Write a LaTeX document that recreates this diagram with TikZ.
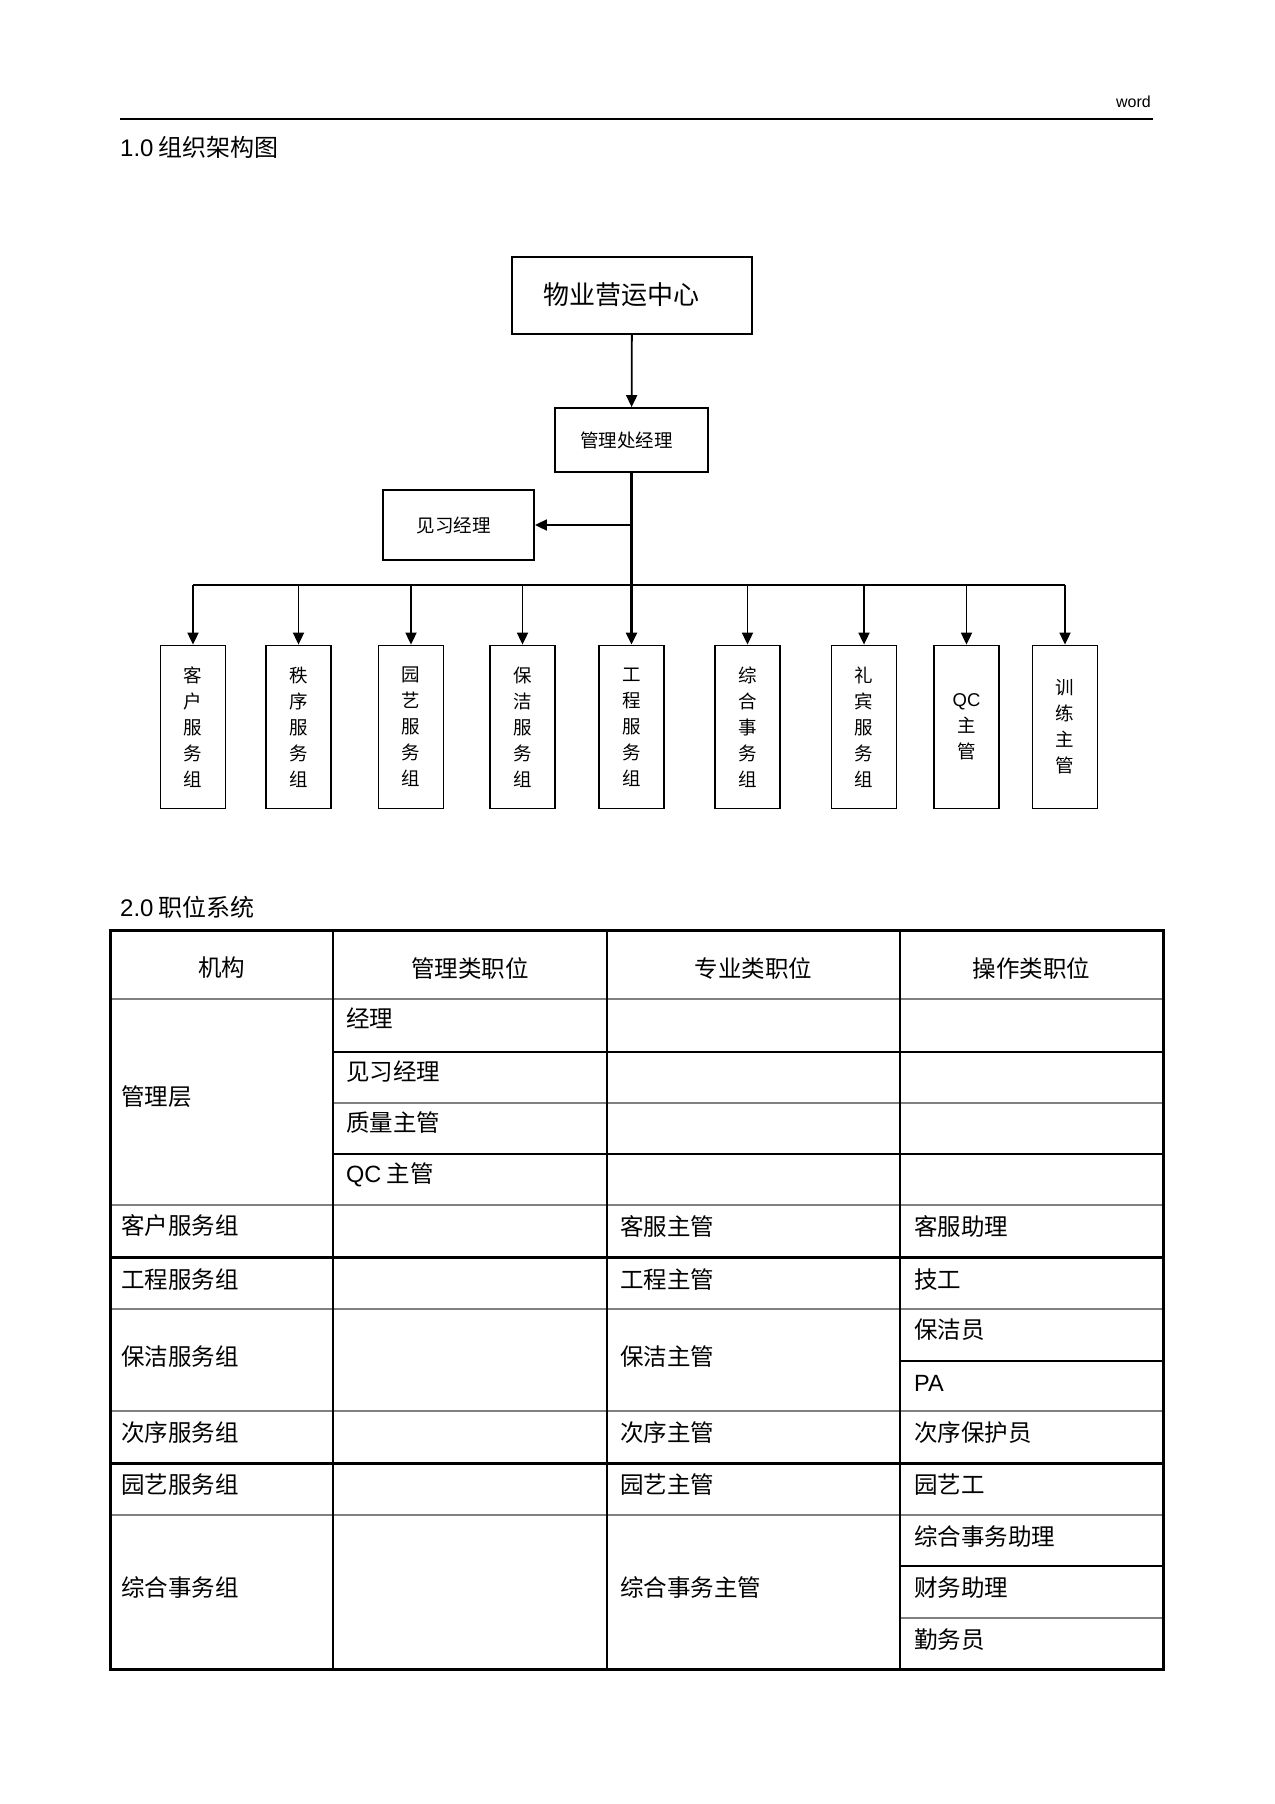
\documentclass[tikz,border=0pt]{standalone}
\usepackage{fontspec}
\setmainfont{Noto Sans CJK SC}
\newfontfamily\latinfont{Liberation Sans}
\usetikzlibrary{arrows.meta,positioning}
\tikzset{
    orgbox/.style={draw, line width=1.8bp, rectangle, inner sep=0pt, align=center},
    groupbox/.style={orgbox, minimum width=65bp, minimum height=163bp,
        font=\fontsize{18.5bp}{26bp}\selectfont},
    arrowlink/.style={line width=1.8bp, -{Triangle[length=12bp,width=11bp]}},
    celltext/.style={anchor=west, inner sep=0pt, font=\fontsize{23.5bp}{28bp}\selectfont},
    headtext/.style={inner sep=0pt, font=\fontsize{23.5bp}{28bp}\selectfont},
    thinrule/.style={line width=2bp},
    greyrule/.style={line width=2.7bp, black!50},
    heavyrule/.style={line width=3bp},
}
\begin{document}
\begin{tikzpicture}[x=1bp, y=-1bp]
\useasboundingbox (0,0) rectangle (1274,1804);
% page head
\node[anchor=east, inner sep=0pt, font=\latinfont\fontsize{16bp}{18bp}\selectfont] (wordmark) at (1151,102) {word};
\coordinate (headL) at (120,118.5);
\coordinate (headR) at (1153,118.5);
\draw[line width=2bp] (headL) -- (headR);
\node[anchor=west, inner sep=0pt, font=\fontsize{24bp}{28bp}\selectfont] (title1) at (120,147) {{\latinfont 1.0} 组织架构图};

% org chart
\node[orgbox, minimum width=240bp, minimum height=77bp, font=\fontsize{26bp}{30bp}\selectfont] (centre) at (632,295.5) {\raisebox{4bp}{物业营运中心}\hspace*{22bp}};
\node[orgbox, minimum width=153bp, minimum height=64bp, font=\fontsize{18.5bp}{22bp}\selectfont] (mgr) at (631.5,440) {管理处经理\hspace*{10bp}};
\node[orgbox, minimum width=151bp, minimum height=70bp, font=\fontsize{18.5bp}{22bp}\selectfont] (trainee) at (458.5,525) {见习经理\hspace*{10bp}};
\foreach \x/\id/\txt in {193/kehu/{客\\户\\服\\务\\组}, 298.5/zhixu/{秩\\序\\服\\务\\组},
    411/yuanyi/{园\\艺\\服\\务\\组}, 522.5/baojie/{保\\洁\\服\\务\\组},
    631.5/gongcheng/{工\\程\\服\\务\\组}, 747.5/zonghe/{综\\合\\事\\务\\组},
    864/libin/{礼\\宾\\服\\务\\组}, 966.5/qc/{{\latinfont QC}\\主\\管},
    1065/xunlian/{训\\练\\主\\管}} {
    \node[groupbox] (\id) at (\x,727) {\txt};
}
\coordinate (busL) at (193,585);
\coordinate (busR) at (1065,585);
\draw[line width=1.2bp] (busL) -- (busR);
\draw[arrowlink] (centre) -- (mgr);
\draw[arrowlink, line width=2.2bp] (mgr) -- (gongcheng);
\draw[arrowlink] (mgr.south |- trainee.east) -- (trainee);
\foreach \id in {kehu, zhixu, yuanyi, baojie, zonghe, libin, qc, xunlian} {
    \draw[arrowlink] (\id.north |- busL) -- (\id);
}

% position table
\node[anchor=west, inner sep=0pt, font=\fontsize{24bp}{28bp}\selectfont] (title2) at (120,907) {{\latinfont 2.0} 职位系统};
\def\colA{110.5}
\def\colB{333}
\def\colC{607}
\def\colD{900}
\def\colE{1163}
\def\tabTop{930.5}
\def\tabBot{1669.5}
\foreach \y in {999, 1205, 1309, 1411, 1515}
    \draw[greyrule] (\colA,\y) -- (\colE,\y);
\foreach \y in {1257, 1463}
    \draw[heavyrule] (\colA,\y) -- (\colE,\y);
\draw[greyrule] (\colB,1103) -- (\colE,1103);
\foreach \y in {1052, 1154}
    \draw[thinrule] (\colB,\y) -- (\colE,\y);
\foreach \y in {1361, 1566}
    \draw[thinrule] (\colD,\y) -- (\colE,\y);
\draw[greyrule] (\colD,1618) -- (\colE,1618);
\foreach \x in {\colB, \colC, \colD}
    \draw[thinrule] (\x,\tabTop) -- (\x,\tabBot);
\draw[heavyrule] (\colA,\tabTop) rectangle (\colE,\tabBot);

% table head
\foreach \x/\txt [count=\i] in {221.5/机构, 470/管理类职位, 753.5/专业类职位, 1031.5/操作类职位}
    \node[headtext] (head\i) at (\x,968) {\txt};
% cells
\foreach \y/\txt [count=\i] in {1097/管理层, 1226/客户服务组, 1280/工程服务组, 1357/保洁服务组,
    1433/次序服务组, 1485/园艺服务组, 1588/综合事务组}
    \node[celltext] (unit\i) at (121,\y) {\txt};
\foreach \y/\txt [count=\i] in {1018/经理, 1072/见习经理, 1123/质量主管, 1175/{{\latinfont QC} 主管}}
    \node[celltext] (mgmt\i) at (346,\y) {\txt};
\foreach \y/\txt [count=\i] in {1226/客服主管, 1280/工程主管, 1357/保洁主管, 1433/次序主管,
    1485/园艺主管, 1588/综合事务主管}
    \node[celltext] (prof\i) at (620,\y) {\txt};
\foreach \y/\txt [count=\i] in {1226/客服助理, 1280/技工, 1330/保洁员, 1383/{{\latinfont PA}},
    1433/次序保护员, 1485/园艺工, 1537/综合事务助理, 1588/财务助理, 1640/勤务员}
    \node[celltext] (oper\i) at (914,\y) {\txt};
\end{tikzpicture}
\end{document}
